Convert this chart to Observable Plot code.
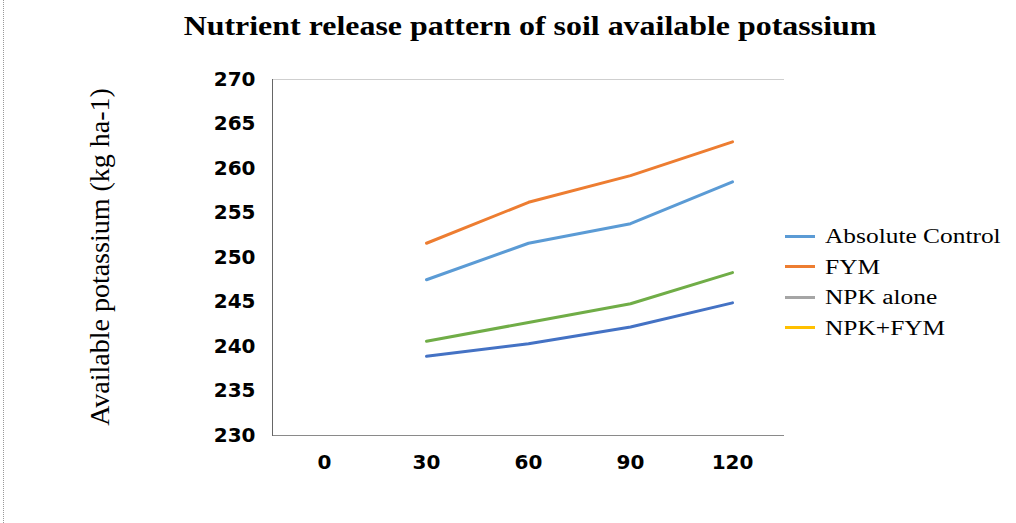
<!DOCTYPE html>
<html>
<head>
<meta charset="utf-8">
<script src="https://cdn.jsdelivr.net/npm/d3@7"></script>
<script src="https://cdn.jsdelivr.net/npm/@observablehq/plot@0.6"></script>
<style>
  html, body { margin: 0; padding: 0; background: #fff; }
  #wrap { position: relative; width: 1016px; height: 523px; overflow: hidden; background: #fff; }
  #wrap::before { content: ""; position: absolute; left: 3px; top: 0; bottom: 0; border-left: 1px dotted #999; }
  #chart { position: absolute; left: 0; top: 0; }
  .serif { font-family: "Liberation Serif", "Times New Roman", serif; color: #000; white-space: nowrap; }
  #title { position: absolute; left: 530px; top: 12px; font-size: 28px; line-height: 28px; font-weight: bold;
           transform: translateX(-50%) scaleX(1.14); transform-origin: center; }
  #ylabel { position: absolute; left: 100px; top: 257px; font-size: 28px; line-height: 28px;
            transform: translate(-50%, -50%) rotate(-90deg); }
  #legend { position: absolute; left: 785px; top: 221px; }
  .row { display: flex; align-items: center; height: 30.5px; }
  .sw { width: 30px; height: 3px; margin-right: 10px; }
  .lt { font-size: 20px; line-height: 22px; transform: scaleX(1.27); transform-origin: left center; }
</style>
</head>
<body>
<div id="wrap">
  <div id="chart"></div>
  <div id="title" class="serif"></div>
  <div id="ylabel" class="serif"></div>
  <div id="legend"></div>
</div>
<script>
const titleText = "Nutrient release pattern of soil available potassium";
const yLabelText = "Available potassium (kg ha-1)";
const dayLabels = ["0", "30", "60", "90", "120"];
const sampleDays = ["30", "60", "90", "120"];
const yTicks = [230, 235, 240, 245, 250, 255, 260, 265, 270];
const seriesNames = ["Absolute Control", "FYM", "NPK alone", "NPK+FYM"];
const absoluteControl = [247.5, 251.6, 253.8, 258.5];
const fym = [251.6, 256.2, 259.2, 263.0];
const npkAlone = [240.6, 242.7, 244.8, 248.3];
const npkFym = [238.9, 240.3, 242.2, 244.9];
const lineColors = ["#5B9BD5", "#ED7D31", "#70AD47", "#4472C4"];
const legendColors = ["#5B9BD5", "#ED7D31", "#A5A5A5", "#FFC000"];

const seriesValues = [absoluteControl, fym, npkAlone, npkFym];
const data = [];
seriesNames.forEach((name, i) => {
  sampleDays.forEach((d, j) => data.push({series: name, day: d, value: seriesValues[i][j]}));
});

const chart = Plot.plot({
  width: 1016,
  height: 523,
  marginLeft: 272,
  marginRight: 232,
  marginTop: 79,
  marginBottom: 88,
  style: {fontFamily: "DejaVu Sans", fontSize: "20px", fontWeight: "bold", color: "#000", background: "transparent", overflow: "visible"},
  x: {type: "point", domain: dayLabels, padding: 0.5, label: null},
  y: {domain: [230, 270], label: null},
  color: {domain: seriesNames, range: lineColors},
  marks: [
    Plot.ruleY([270], {stroke: "#cfcfcf", strokeWidth: 1}),
    Plot.ruleY([230], {stroke: "#8a8a8a", strokeWidth: 1}),
    Plot.frame({anchor: "left", stroke: "#666", strokeWidth: 1}),
    Plot.axisY({ticks: yTicks, tickSize: 0, tickPadding: 17, label: null, fill: "#000"}),
    Plot.axisX({tickSize: 0, tickPadding: 19, label: null, fill: "#000"}),
    Plot.line(data, {x: "day", y: "value", z: "series", stroke: "series", strokeWidth: 3,
                     strokeLinecap: "round", strokeLinejoin: "round"})
  ]
});
document.getElementById("chart").appendChild(chart);

document.getElementById("title").textContent = titleText;
document.getElementById("ylabel").textContent = yLabelText;

const legend = document.getElementById("legend");
seriesNames.forEach((name, i) => {
  const row = document.createElement("div");
  row.className = "row";
  const sw = document.createElement("div");
  sw.className = "sw";
  sw.style.background = legendColors[i];
  const lt = document.createElement("div");
  lt.className = "lt serif";
  lt.textContent = name;
  row.appendChild(sw);
  row.appendChild(lt);
  legend.appendChild(row);
});
</script>
</body>
</html>
